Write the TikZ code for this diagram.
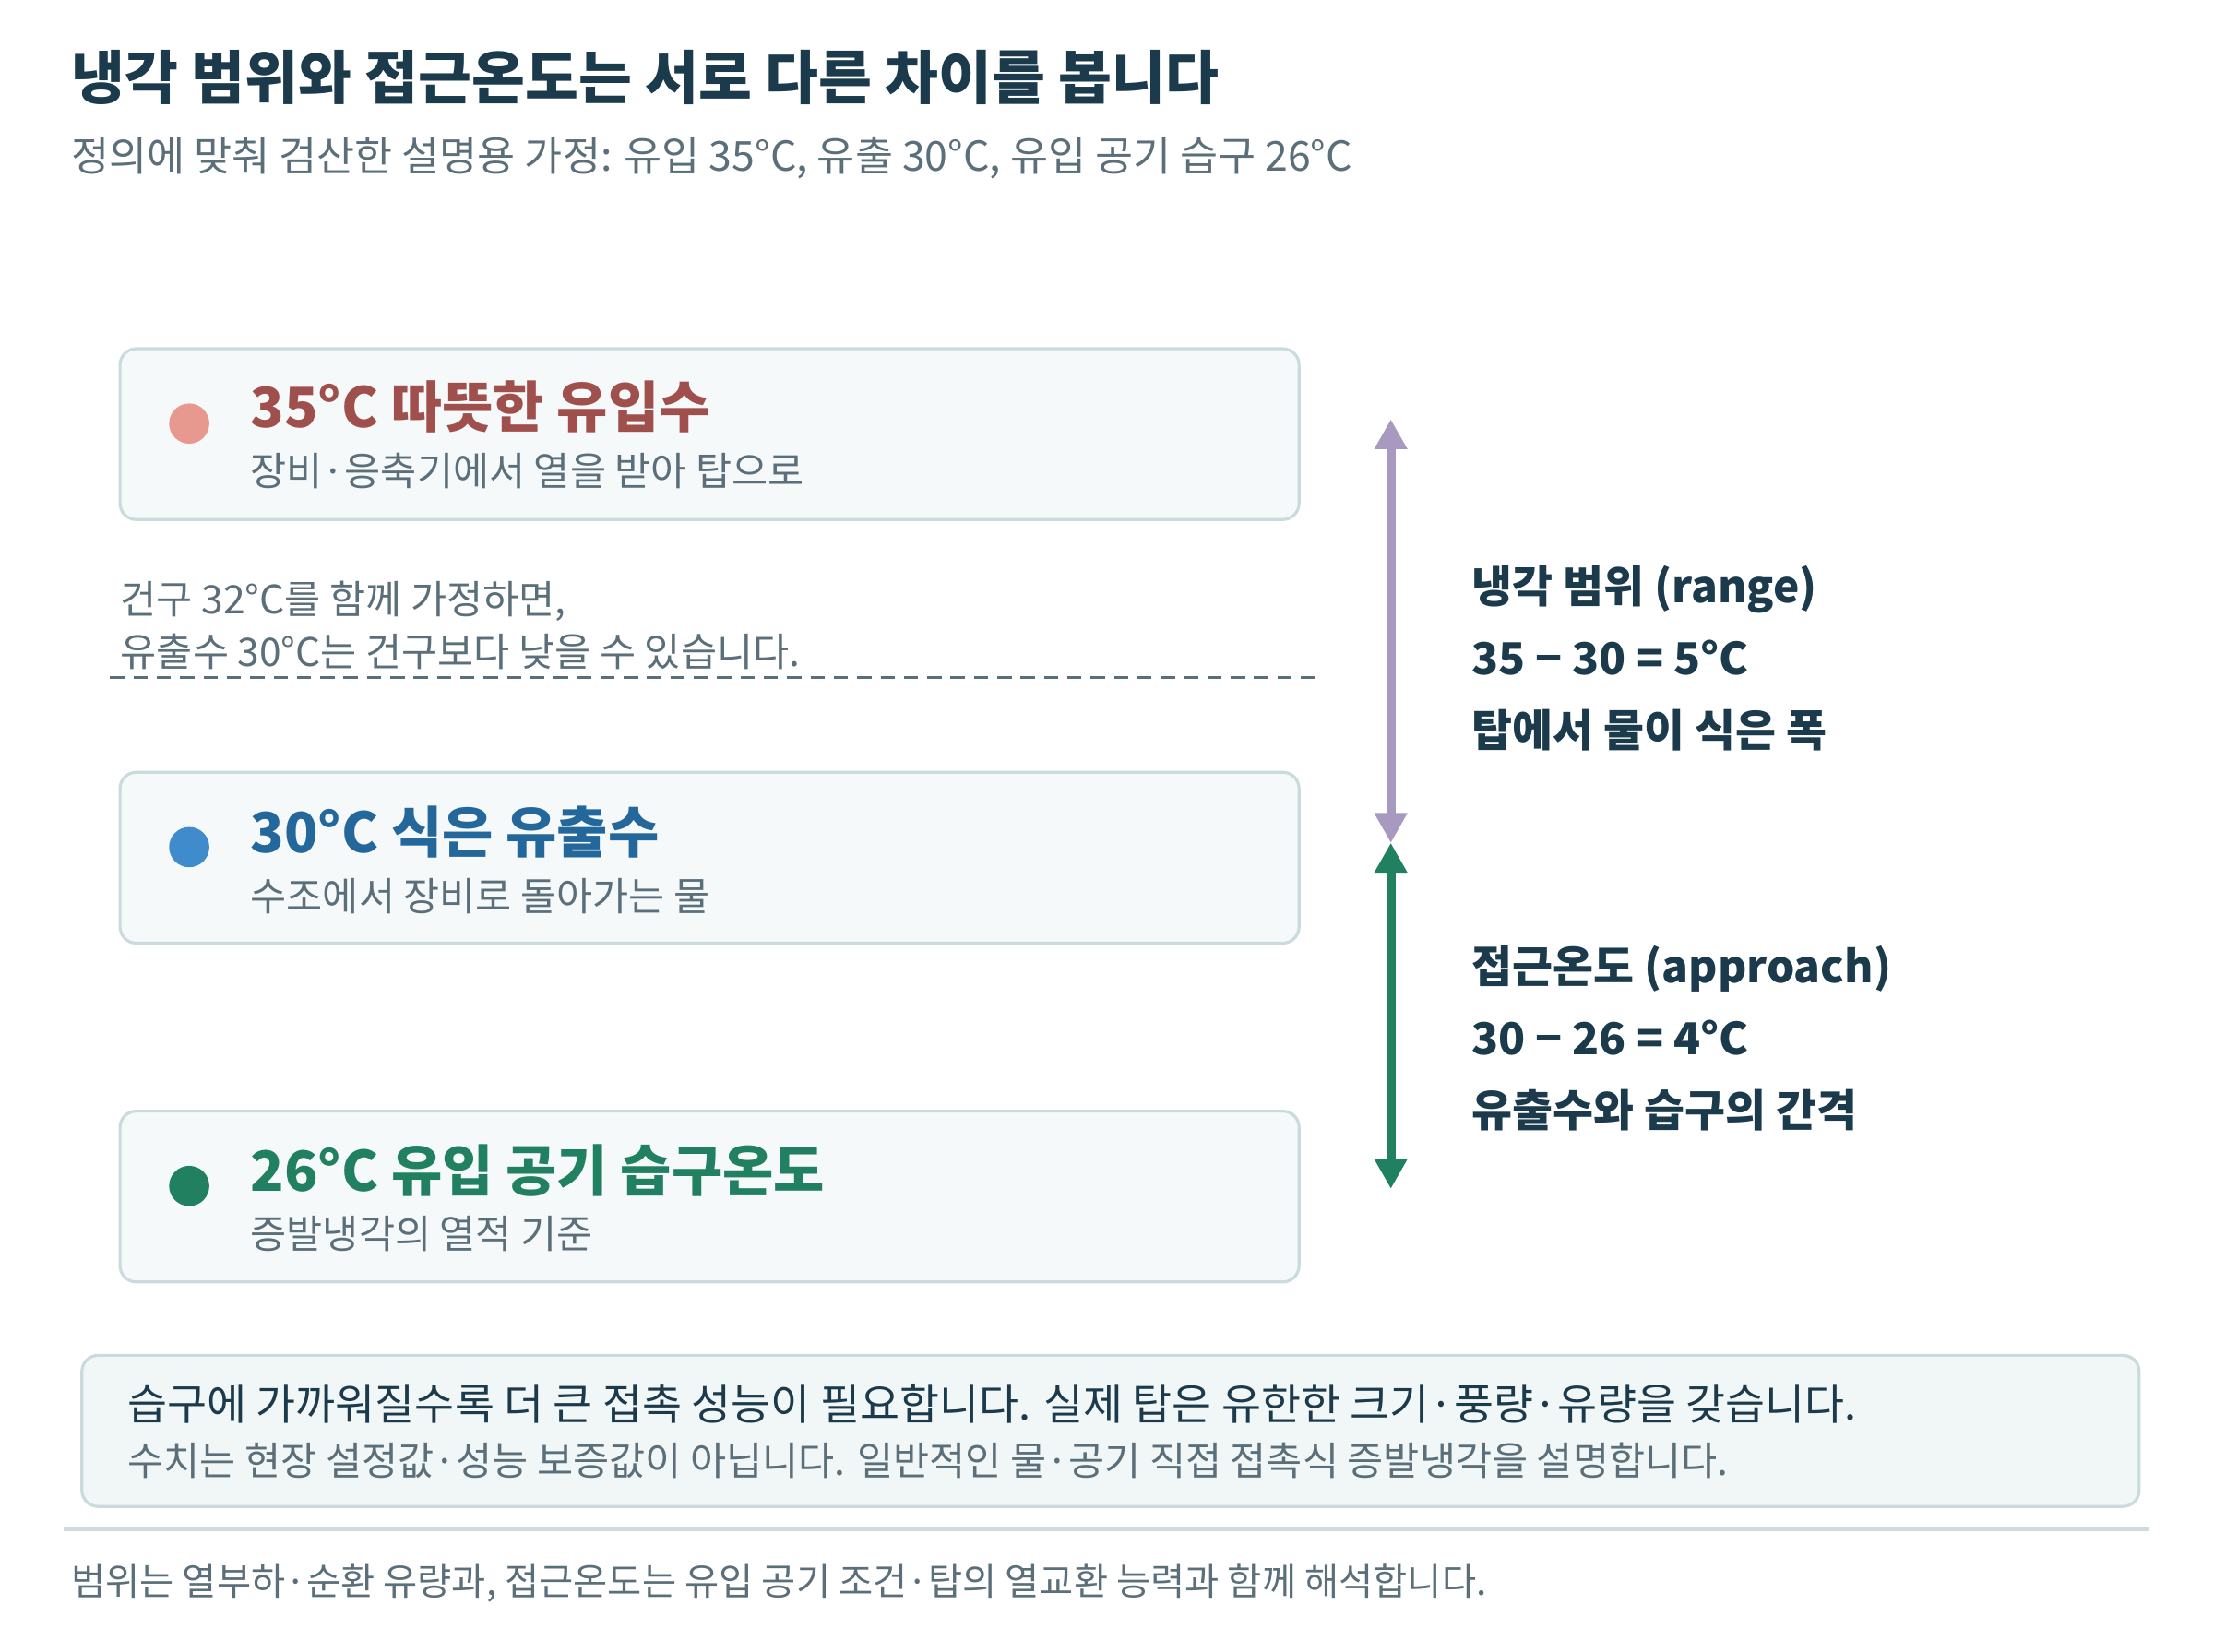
\documentclass[tikz,border=0pt]{standalone}
\usepackage{fontspec}
\setmainfont{Noto Sans CJK KR}
\usetikzlibrary{arrows.meta}
\definecolor{ink}{HTML}{1B3A4B}
\definecolor{muted}{HTML}{5B6F7A}
\definecolor{cardline}{HTML}{C9DBDD}
\definecolor{cardfill}{HTML}{F5F9FA}
\definecolor{notefill}{HTML}{F1F6F6}
\definecolor{warmtext}{HTML}{A0504C}
\definecolor{warmdot}{HTML}{E8998F}
\definecolor{cooltext}{HTML}{24679A}
\definecolor{cooldot}{HTML}{3F8BCB}
\definecolor{wettext}{HTML}{20805F}
\definecolor{rangecol}{HTML}{A899C0}
\definecolor{rulecol}{HTML}{CFDCDF}
\begin{document}
\begin{tikzpicture}[x=0.015306cm, y=-0.015306cm,
  card/.style={draw=cardline, fill=cardfill, line width=0.9pt, rounded corners=5pt},
  txt/.style={anchor=base west, inner sep=0pt},
  headline/.style={txt, text=ink, font=\fontsize{17.9pt}{21pt}\selectfont\bfseries},
  subline/.style={txt, text=muted, font=\fontsize{12.7pt}{15pt}\selectfont},
  cardtitle/.style={txt, font=\fontsize{17.1pt}{20pt}\selectfont\bfseries},
  small/.style={txt, text=muted, font=\fontsize{12.1pt}{14pt}\selectfont},
  side/.style={txt, text=ink, font=\fontsize{13.6pt}{16pt}\selectfont\bfseries},
  dot/.style={circle, inner sep=0pt, minimum size=12.4pt},
  span/.style={line width=2.8pt, {Triangle[width=9.6pt,length=9.2pt]}-{Triangle[width=9.6pt,length=9.2pt]}}]
\useasboundingbox [fill=white] (0,0) rectangle (1568,1169.5);
\node (title) at (50,70) [headline] {냉각 범위와 접근온도는 서로 다른 차이를 봅니다};
\node (subtitle) at (50,121) [subline] {정의에 맞춰 검산한 설명용 가정: 유입 35°C, 유출 30°C, 유입 공기 습구 26°C};
% three temperature cards
\draw [card] (85,247) rectangle (920,368);
\node (hotdot) at (134,300) [dot, fill=warmdot] {};
\node (hot) at (177,303) [cardtitle, text=warmtext] {35°C 따뜻한 유입수};
\node (hotsub) at (177,344) [small] {장비·응축기에서 열을 받아 탑으로};
\node (noteA) at (85,435) [small] {건구 32°C를 함께 가정하면,};
\node (noteB) at (85,472) [small] {유출수 30°C는 건구보다 낮을 수 있습니다.};
\draw [muted, line width=0.7pt, dash pattern=on 4.4pt off 2.8pt] (78,480) -- (937,480);
\draw [card] (85,547) rectangle (920,668);
\node (colddot) at (134,600) [dot, fill=cooldot] {};
\node (cold) at (177,604) [cardtitle, text=cooltext] {30°C 식은 유출수};
\node (coldsub) at (177,645) [small] {수조에서 장비로 돌아가는 물};
\draw [card] (85,787) rectangle (920,908);
\node (wetdot) at (134,840) [dot, fill=wettext] {};
\node (wet) at (177,844) [cardtitle, text=wettext] {26°C 유입 공기 습구온도};
\node (wetsub) at (177,884) [small] {증발냉각의 열적 기준};
% range and approach
\coordinate (top) at (985,297);
\coordinate (mid) at (985,597);
\coordinate (bot) at (985,842);
\draw [span, rangecol] (top) -- (mid);
\draw [span, wettext] (mid) -- (bot);
\node (rangeA) at (1042,427) [side] {냉각 범위 (range)};
\node (rangeB) at (1042,478) [side] {35 − 30 = 5°C};
\node (rangeC) at (1042,529) [side] {탑에서 물이 식은 폭};
\node (apprA) at (1042,696) [side] {접근온도 (approach)};
\node (apprB) at (1042,747) [side] {30 − 26 = 4°C};
\node (apprC) at (1042,798) [side] {유출수와 습구의 간격};
% note box and footer
\draw [card, fill=notefill] (58,960) rectangle (1515,1067);
\node (limitA) at (90,1006) [txt, text=ink, font=\fontsize{13.3pt}{16pt}\selectfont] {습구에 가까워질수록 더 큰 접촉 성능이 필요합니다. 실제 탑은 유한한 크기·풍량·유량을 갖습니다.};
\node (limitB) at (90,1045) [small] {수치는 현장 설정값·성능 보증값이 아닙니다. 일반적인 물·공기 직접 접촉식 증발냉각을 설명합니다.};
\draw [rulecol, line width=1.1pt] (45,1083) -- (1522,1083);
\node (footer) at (50,1130) [small, font=\fontsize{11.5pt}{13pt}\selectfont] {범위는 열부하·순환 유량과, 접근온도는 유입 공기 조건·탑의 열교환 능력과 함께 해석합니다.};
\end{tikzpicture}
\end{document}
